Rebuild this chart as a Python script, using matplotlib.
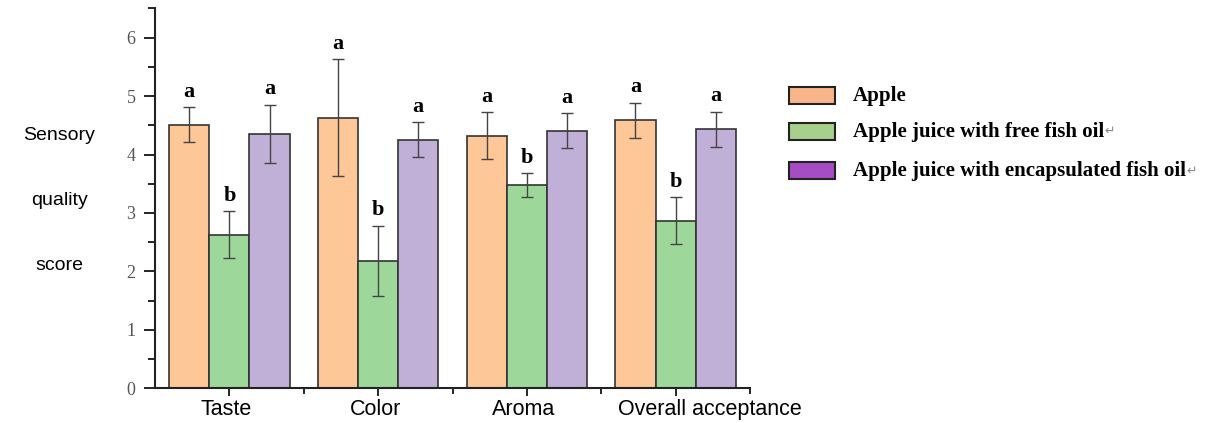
import numpy as np
import matplotlib.pyplot as plt
from matplotlib.patches import Rectangle
from matplotlib.ticker import MultipleLocator

# sensory scores (mean and error) for each attribute
categories = ["Taste", "Color", "Aroma", "Overall acceptance"]
series = ["Apple", "Apple juice with free fish oil", "Apple juice with encapsulated fish oil"]
apple = [4.51, 4.63, 4.32, 4.59]
free_oil = [2.63, 2.18, 3.48, 2.87]
encap_oil = [4.35, 4.25, 4.41, 4.43]
apple_err = [0.30, 1.00, 0.40, 0.30]
free_err = [0.40, 0.60, 0.20, 0.40]
encap_err = [0.50, 0.30, 0.30, 0.30]
letters = [["a", "a", "a", "a"], ["b", "b", "b", "b"], ["a", "a", "a", "a"]]

bar_colors = ["#FDC797", "#9DD89A", "#C0AFD6"]
legend_colors = ["#F9B58A", "#A8D08D", "#A64DC4"]

fig = plt.figure(figsize=(12.08, 4.23), dpi=100)
ax = fig.add_axes([0.1283, 0.082, 0.4926, 0.898])

x = np.arange(len(categories)) + 0.5
w = 0.27
values = [apple, free_oil, encap_oil]
errors = [apple_err, free_err, encap_err]
for i, (vals, errs) in enumerate(zip(values, errors)):
    xs = x + (i - 1) * w
    ax.bar(xs, vals, w, color=bar_colors[i], edgecolor="#333333", linewidth=1.2, zorder=2)
    ax.errorbar(xs, vals, yerr=errs, fmt="none", ecolor="#444444", elinewidth=1,
                capsize=4, capthick=1, zorder=3)
    for xi, v, e, lab in zip(xs, vals, errs, letters[i]):
        ax.annotate(lab, (xi, v + e), xytext=(0, 4), textcoords="offset points",
                    ha="center", va="bottom", fontsize=16, fontweight="bold",
                    family="Liberation Serif")

ax.set_xlim(0, 4)
ax.set_ylim(0, 6.5)
ax.yaxis.set_major_locator(MultipleLocator(1))
ax.yaxis.set_minor_locator(MultipleLocator(0.5))
ax.set_xticks(x)
ax.set_xticks([1, 2, 3, 4], minor=True)
ax.set_xticklabels([])
# category names under the ticks; the long last one starts left of its tick
for xi, name in zip(x, categories):
    if name == categories[-1]:
        ax.annotate(name, (xi, 0), xycoords=("data", "axes fraction"), xytext=(-58, -11),
                    textcoords="offset pixels", ha="left", va="top",
                    fontsize=15.5, family="Liberation Sans")
    else:
        ax.annotate(name, (xi, 0), xycoords=("data", "axes fraction"), xytext=(-3, -11),
                    textcoords="offset pixels", ha="center", va="top",
                    fontsize=15.5, family="Liberation Sans")
for lab in ax.get_yticklabels():
    lab.set_family("Liberation Serif")
ax.tick_params(axis="y", labelsize=13, labelcolor="#555555", length=8, width=1.2, pad=6)
ax.tick_params(axis="y", which="minor", length=5, width=1.2)
ax.tick_params(axis="x", length=6, width=1.2)
ax.tick_params(axis="x", which="minor", length=4, width=1.2)
for s in ["top", "right"]:
    ax.spines[s].set_visible(False)
for s in ["left", "bottom"]:
    ax.spines[s].set_linewidth(1.5)
    ax.spines[s].set_color("#222222")

# y label, spread over three lines
for txt, yy in zip(["Sensory", "quality", "score"], [135, 200, 265]):
    fig.text(59 / 1208, 1 - yy / 423, txt, ha="center", va="center",
             fontsize=14, family="Liberation Sans")

# legend drawn by hand
legend_y = [96, 131.5, 171]
for name, col, yy in zip(series, legend_colors, legend_y):
    fig.patches.append(Rectangle((789 / 1208, 1 - (yy + 8.5) / 423), 46 / 1208, 17 / 423,
                                 transform=fig.transFigure, facecolor=col,
                                 edgecolor="#222222", linewidth=1.5))
    t = fig.text(853 / 1208, 1 - yy / 423, name, ha="left", va="center", fontsize=15,
                 fontweight="bold", family="Liberation Serif")
    if name != "Apple":
        fig.canvas.draw()
        bb = t.get_window_extent()
        fig.text(bb.x1 / 1208, 1 - yy / 423, "\u21b5", ha="left", va="center",
                 fontsize=9, color="#888888", family="DejaVu Sans")

fig.savefig("out.png", dpi=100)
